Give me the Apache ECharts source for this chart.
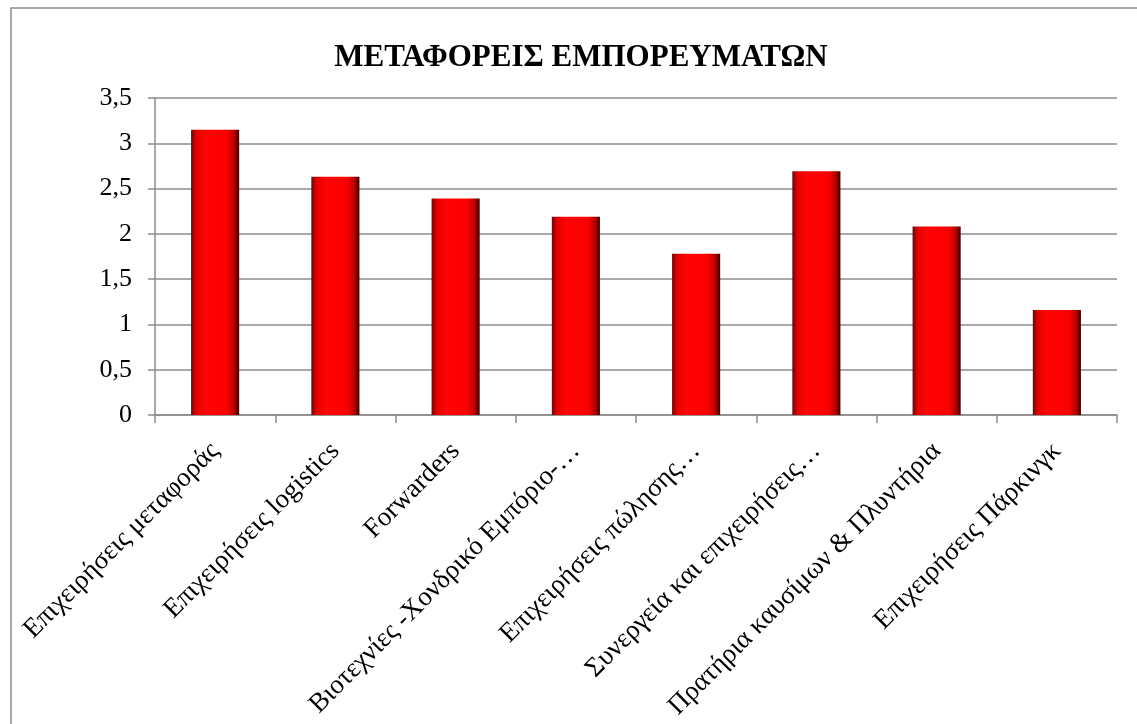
<!DOCTYPE html>
<html>
<head>
<meta charset="utf-8">
<script src="https://cdn.jsdelivr.net/npm/echarts@6/dist/echarts.min.js"></script>
<style>
html,body{margin:0;padding:0;background:#fff;}
#chart{width:1137px;height:724px;}
</style>
</head>
<body>
<div id="chart"></div>
<script>
var titleText = 'ΜΕΤΑΦΟΡΕΙΣ ΕΜΠΟΡΕΥΜΑΤΩΝ';
var categories = [
  'Επιχειρήσεις μεταφοράς',
  'Επιχειρήσεις logistics',
  'Forwarders',
  'Βιοτεχνίες -Χονδρικό Εμπόριο-…',
  'Επιχειρήσεις πώλησης…',
  'Συνεργεία και επιχειρήσεις…',
  'Πρατήρια καυσίμων & Πλυντήρια',
  'Επιχειρήσεις Πάρκινγκ'
];
var values = [3.15, 2.63, 2.39, 2.19, 1.78, 2.69, 2.08, 1.16];
var yTicks = [0, 0.5, 1, 1.5, 2, 2.5, 3, 3.5];

var chart = echarts.init(document.getElementById('chart'), null, {renderer: 'canvas'});
var serif = '"Liberation Serif", "DejaVu Serif", serif';
chart.setOption({
  animation: false,
  backgroundColor: '#fff',
  graphic: [{
    type: 'rect',
    shape: {x: 11, y: 8, width: 1140, height: 730},
    style: {fill: 'none', stroke: '#8c8c8c', lineWidth: 1.5},
    silent: true
  }],
  title: {
    text: titleText,
    left: 576,
    textAlign: 'center',
    top: 37,
    textStyle: {fontFamily: serif, fontSize: 31, fontWeight: 'bold', color: '#000'}
  },
  grid: {left: 155, right: 20, top: 98, bottom: 309, containLabel: false},
  xAxis: {
    type: 'category',
    data: categories,
    axisLine: {lineStyle: {color: '#8c8c8c', width: 1.5}},
    axisTick: {show: true, length: 8, alignWithLabel: false, lineStyle: {color: '#8c8c8c', width: 1.5}},
    axisLabel: {
      interval: 0,
      rotate: 45,
      margin: 32,
      fontFamily: serif,
      fontSize: 27,
      color: '#000'
    }
  },
  yAxis: {
    type: 'value',
    min: 0,
    max: 3.5,
    interval: 0.5,
    axisLine: {show: true, lineStyle: {color: '#8c8c8c', width: 1.5}},
    axisTick: {show: true, length: 7, lineStyle: {color: '#8c8c8c', width: 1.5}},
    splitLine: {lineStyle: {color: '#8c8c8c', width: 1.5}},
    axisLabel: {
      margin: 23,
      fontFamily: serif,
      fontSize: 26,
      color: '#000',
      formatter: function (v) {
        return String(v).replace('.', ',');
      }
    }
  },
  series: [{
    type: 'bar',
    data: values,
    barWidth: '40%',
    itemStyle: {
      color: new echarts.graphic.LinearGradient(0, 0, 1, 0, [
        {offset: 0, color: '#7a0000'},
        {offset: 0.1, color: '#e00000'},
        {offset: 0.3, color: '#ff0404'},
        {offset: 0.75, color: '#fa0000'},
        {offset: 0.9, color: '#b00000'},
        {offset: 1, color: '#300000'}
      ]),
      borderWidth: 0
    }
  }]
});
</script>
</body>
</html>
